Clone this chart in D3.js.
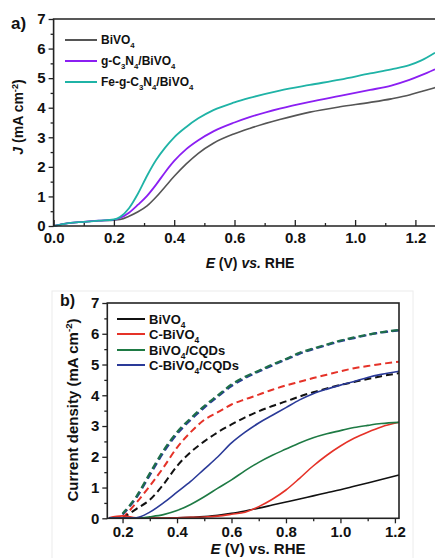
<!DOCTYPE html>
<html>
<head>
<meta charset="utf-8">
<script src="https://cdn.jsdelivr.net/npm/d3@7"></script>
<style>
    body { margin: 0; background: #fff; }
    svg text { font-family: 'Liberation Sans', Arial, sans-serif; font-weight: bold; fill: #111; }
</style>
</head>
<body>
<div id="chart"></div>
<script>
// ---- panel a: J vs E ----
var potA = [0, 0.05, 0.1, 0.15, 0.2, 0.22, 0.25, 0.28, 0.31, 0.34, 0.37, 0.4, 0.44, 0.48, 0.53, 0.6, 0.65, 0.75, 0.85, 0.95, 1.05, 1.12, 1.18, 1.22, 1.265];
var bivo4A = [0, 0.1, 0.14, 0.18, 0.2, 0.22, 0.33, 0.48, 0.68, 0.98, 1.33, 1.68, 2.1, 2.46, 2.8, 3.12, 3.3, 3.6, 3.85, 4.03, 4.18, 4.3, 4.43, 4.55, 4.68];
var gcnA = [0, 0.1, 0.14, 0.18, 0.21, 0.27, 0.45, 0.72, 1.02, 1.4, 1.82, 2.2, 2.6, 2.9, 3.2, 3.5, 3.68, 3.97, 4.2, 4.4, 4.6, 4.75, 4.94, 5.1, 5.3];
var fegcnA = [0, 0.1, 0.14, 0.18, 0.22, 0.3, 0.6, 1.1, 1.7, 2.23, 2.65, 3.0, 3.35, 3.64, 3.92, 4.18, 4.33, 4.58, 4.77, 4.95, 5.16, 5.3, 5.44, 5.6, 5.86];
var ticksXA = [0, 0.2, 0.4, 0.6, 0.8, 1.0, 1.2];
var ticksY = [0, 1, 2, 3, 4, 5, 6, 7];

// ---- panel b: current density vs E ----
var potB = [0.15, 0.2, 0.25, 0.3, 0.35, 0.4, 0.45, 0.5, 0.55, 0.6, 0.65, 0.7, 0.75, 0.8, 0.85, 0.9, 0.95, 1.0, 1.05, 1.1, 1.15, 1.215];
var bivo4B = [0.02, 0.01, 0, 0, 0, 0.02, 0.03, 0.06, 0.1, 0.16, 0.24, 0.33, 0.43, 0.53, 0.63, 0.73, 0.83, 0.93, 1.04, 1.15, 1.26, 1.41];
var cBivo4B = [0.02, 0.08, 0.02, 0.01, 0.01, 0.02, 0.03, 0.04, 0.07, 0.13, 0.2, 0.38, 0.62, 0.92, 1.3, 1.7, 2.05, 2.35, 2.6, 2.8, 2.97, 3.12];
var bivo4CqdB = [0.02, 0.01, 0, 0.05, 0.12, 0.25, 0.45, 0.7, 0.98, 1.25, 1.55, 1.82, 2.05, 2.25, 2.45, 2.62, 2.75, 2.85, 2.95, 3.02, 3.08, 3.12];
var cBivo4CqdB = [0.02, 0.01, 0.02, 0.2, 0.5, 0.85, 1.2, 1.6, 2.0, 2.45, 2.8, 3.1, 3.35, 3.6, 3.85, 4.05, 4.2, 4.33, 4.45, 4.58, 4.68, 4.78];

var potBd = [0.2, 0.25, 0.3, 0.35, 0.4, 0.45, 0.5, 0.55, 0.6, 0.65, 0.7, 0.75, 0.8, 0.85, 0.9, 0.95, 1.0, 1.05, 1.1, 1.15, 1.215];
var bivo4Dash = [0.0, 0.3, 0.6, 1.1, 1.7, 2.15, 2.5, 2.8, 3.05, 3.28, 3.48, 3.65, 3.8, 3.96, 4.1, 4.22, 4.34, 4.43, 4.53, 4.62, 4.72];
var cBivo4Dash = [0.0, 0.5, 1.05, 1.65, 2.3, 2.8, 3.2, 3.45, 3.7, 3.87, 4.02, 4.18, 4.32, 4.44, 4.56, 4.67, 4.78, 4.88, 4.95, 5.02, 5.09];
var bivo4CqdDash = [0.15, 0.7, 1.46, 2.2, 2.8, 3.25, 3.65, 4.0, 4.35, 4.6, 4.8, 5.0, 5.18, 5.38, 5.52, 5.65, 5.78, 5.88, 5.97, 6.05, 6.12];
var cBivo4CqdDash = [0.12, 0.66, 1.4, 2.14, 2.74, 3.2, 3.6, 3.96, 4.3, 4.56, 4.77, 4.97, 5.16, 5.35, 5.5, 5.63, 5.76, 5.86, 5.96, 6.04, 6.11];
var ticksXB = [0.2, 0.4, 0.6, 0.8, 1.0, 1.2];

var W = 435, H = 558;

var svg = d3.select('#chart').append('svg')
    .attr('width', W)
    .attr('height', H);

svg.append('rect').attr('width', W).attr('height', H).attr('fill', '#fff');

// write text made of parts: [string, 'i' | 'sub' | 'sup' | '']
function richText(el, parts, size) {
    var shift = 0;
    parts.forEach(function(p) {
        var ts = el.append('tspan').text(p[0]);
        var target = 0;
        if (p[1] == 'sub') { target = size * 0.3; ts.attr('font-size', size * 0.65); }
        if (p[1] == 'sup') { target = -size * 0.38; ts.attr('font-size', size * 0.65); }
        if (p[1] == 'i') ts.attr('font-style', 'italic');
        if (target != shift) { ts.attr('dy', target - shift); shift = target; }
    });
    return el;
}

function zip(xs, ys) {
    return xs.map(function(x, i) { return [x, ys[i]]; });
}

function drawLines(g, x, y, series) {
    var line = d3.line()
        .x(function(d) { return x(d[0]); })
        .y(function(d) { return y(d[1]); })
        .curve(d3.curveMonotoneX);
    g.selectAll('.series')
        .data(series)
        .enter().append('path')
        .attr('class', 'series')
        .attr('d', function(d) { return line(zip(d.x, d.y)); })
        .attr('fill', 'none')
        .attr('stroke', function(d) { return d.color; })
        .attr('stroke-width', function(d) { return d.width; })
        .attr('stroke-dasharray', function(d) { return d.dash || null; })
        .attr('stroke-dashoffset', function(d) { return d.offset || 0; });
}

function legend(g, items, x0, x1, ys, size) {
    items.forEach(function(it, i) {
        g.append('line')
            .attr('x1', x0).attr('x2', x1)
            .attr('y1', ys[i]).attr('y2', ys[i])
            .attr('stroke', it.color).attr('stroke-width', 2);
        var t = g.append('text')
            .attr('x', x1 + 4)
            .attr('y', ys[i] + size * 0.36)
            .attr('font-size', size);
        richText(t, it.label, size);
    });
}

function styleTicks(g) {
    g.selectAll('.domain').remove();
    g.selectAll('.tick line').attr('stroke', '#222').attr('stroke-width', 1.3);
    g.selectAll('.tick text').attr('font-size', 15).attr('fill', '#111')
        .attr('font-family', "'Liberation Sans', Arial, sans-serif").attr('font-weight', 'bold');
}

// ================= panel a =================
function panelA() {
    var x = d3.scaleLinear().domain([0, 1.265]).range([53.6, 435]);
    var y = d3.scaleLinear().domain([0, 7]).range([226, 19]);
    var g = svg.append('g');

    var series = [
        {x: potA, y: bivo4A, color: '#555555', width: 1.6},
        {x: potA, y: gcnA, color: '#8b1ff2', width: 1.8},
        {x: potA, y: fegcnA, color: '#1fb3a6', width: 1.8}
    ];
    drawLines(g, x, y, series);

    g.append('g')
        .attr('transform', 'translate(0,226)')
        .call(d3.axisBottom(x).tickValues(ticksXA).tickSize(-6).tickPadding(6)
            .tickFormat(d3.format('.1f')));
    g.append('g')
        .attr('transform', 'translate(0,226)')
        .call(d3.axisBottom(x).tickValues([0.1, 0.3, 0.5, 0.7, 0.9, 1.1]).tickSize(-3).tickFormat(''));
    g.append('g')
        .attr('transform', 'translate(53.6,0)')
        .call(d3.axisLeft(y).tickValues(ticksY).tickSize(5).tickPadding(3).tickFormat(d3.format('d')));
    g.append('g')
        .attr('transform', 'translate(53.6,0)')
        .call(d3.axisLeft(y).tickValues([0.5, 1.5, 2.5, 3.5, 4.5, 5.5, 6.5]).tickSize(3).tickFormat(''));
    styleTicks(g);

    // frame: left, bottom, top
    g.append('path')
        .attr('d', 'M435,19H53.6V226H435')
        .attr('fill', 'none').attr('stroke', '#222').attr('stroke-width', 1.6);

    var xt = g.append('text').attr('x', 250).attr('y', 268).attr('text-anchor', 'middle').attr('font-size', 14);
    richText(xt, [['E', 'i'], [' (V) ', ''], ['vs.', 'i'], [' RHE', '']], 14);

    var yt = g.append('text').attr('transform', 'translate(23,117) rotate(-90)')
        .attr('text-anchor', 'middle').attr('font-size', 14);
    richText(yt, [['J', 'i'], [' (mA cm', ''], ['-2', 'sup'], [')', '']], 14);

    g.append('text').attr('x', 11).attr('y', 29).attr('font-size', 17)
        .attr('font-family', "'Liberation Serif', 'Times New Roman', serif").text('a)');

    legend(g, [
        {color: '#555555', label: [['BiVO', ''], ['4', 'sub']]},
        {color: '#8b1ff2', label: [['g-C', ''], ['3', 'sub'], ['N', ''], ['4', 'sub'], ['/BiVO', ''], ['4', 'sub']]},
        {color: '#1fb3a6', label: [['Fe-g-C', ''], ['3', 'sub'], ['N', ''], ['4', 'sub'], ['/BiVO', ''], ['4', 'sub']]}
    ], 65, 97, [40, 61, 82], 12);
}

// ================= panel b =================
function panelB() {
    var x = d3.scaleLinear().domain([0.144, 1.215]).range([107.3, 399]);
    var y = d3.scaleLinear().domain([0, 7]).range([518.3, 303]);
    var g = svg.append('g');

    // faint outer frame of the figure
    g.append('rect').attr('x', 52).attr('y', 291).attr('width', 361).attr('height', 290)
        .attr('fill', 'none').attr('stroke', '#ececec').attr('stroke-width', 1);

    var series = [
        {x: potBd, y: cBivo4CqdDash, color: '#2a3a98', width: 2.2, dash: '7,4'},
        {x: potBd, y: bivo4CqdDash, color: '#1e6e4a', width: 2.2, dash: '7,4', offset: 1},
        {x: potBd, y: cBivo4Dash, color: '#e53228', width: 2, dash: '7,4'},
        {x: potBd, y: bivo4Dash, color: '#111111', width: 2, dash: '7,4'},
        {x: potB, y: bivo4B, color: '#111111', width: 1.6},
        {x: potB, y: cBivo4B, color: '#e53228', width: 1.6},
        {x: potB, y: bivo4CqdB, color: '#1e7a44', width: 1.6},
        {x: potB, y: cBivo4CqdB, color: '#2a3a98', width: 1.6}
    ];
    drawLines(g, x, y, series);

    g.append('g')
        .attr('transform', 'translate(0,518.3)')
        .call(d3.axisBottom(x).tickValues(ticksXB).tickSize(5).tickPadding(3)
            .tickFormat(d3.format('.1f')));
    g.append('g')
        .attr('transform', 'translate(0,518.3)')
        .call(d3.axisBottom(x).tickValues([0.3, 0.5, 0.7, 0.9, 1.1]).tickSize(3).tickFormat(''));
    g.append('g')
        .attr('transform', 'translate(107.3,0)')
        .call(d3.axisLeft(y).tickValues(ticksY).tickSize(5).tickPadding(3).tickFormat(d3.format('d')));
    g.append('g')
        .attr('transform', 'translate(107.3,0)')
        .call(d3.axisLeft(y).tickValues([0.5, 1.5, 2.5, 3.5, 4.5, 5.5, 6.5]).tickSize(3).tickFormat(''));
    styleTicks(g);

    g.append('rect')
        .attr('x', 107.3).attr('y', 303)
        .attr('width', 399 - 107.3).attr('height', 518.3 - 303)
        .attr('fill', 'none').attr('stroke', '#222').attr('stroke-width', 1.6);

    var xt = g.append('text').attr('x', 258).attr('y', 554).attr('text-anchor', 'middle').attr('font-size', 15);
    richText(xt, [['E', 'i'], [' (V) vs. RHE', '']], 15);

    var yt = g.append('text').attr('transform', 'translate(78,410) rotate(-90)')
        .attr('text-anchor', 'middle').attr('font-size', 15);
    richText(yt, [['Current density (mA cm', ''], ['-2', 'sup'], [')', '']], 15);

    g.append('text').attr('x', 60).attr('y', 306).attr('font-size', 16)
        .attr('font-family', "'Liberation Serif', 'Times New Roman', serif").text('b)');

    legend(g, [
        {color: '#111111', label: [['BiVO', ''], ['4', 'sub']]},
        {color: '#e53228', label: [['C-BiVO', ''], ['4', 'sub']]},
        {color: '#1e7a44', label: [['BiVO', ''], ['4', 'sub'], ['/CQDs', '']]},
        {color: '#2a3a98', label: [['C-BiVO', ''], ['4', 'sub'], ['/CQDs', '']]}
    ], 117, 145, [319, 334, 350, 365], 13);
}

panelA();
panelB();
</script>
</body>
</html>
